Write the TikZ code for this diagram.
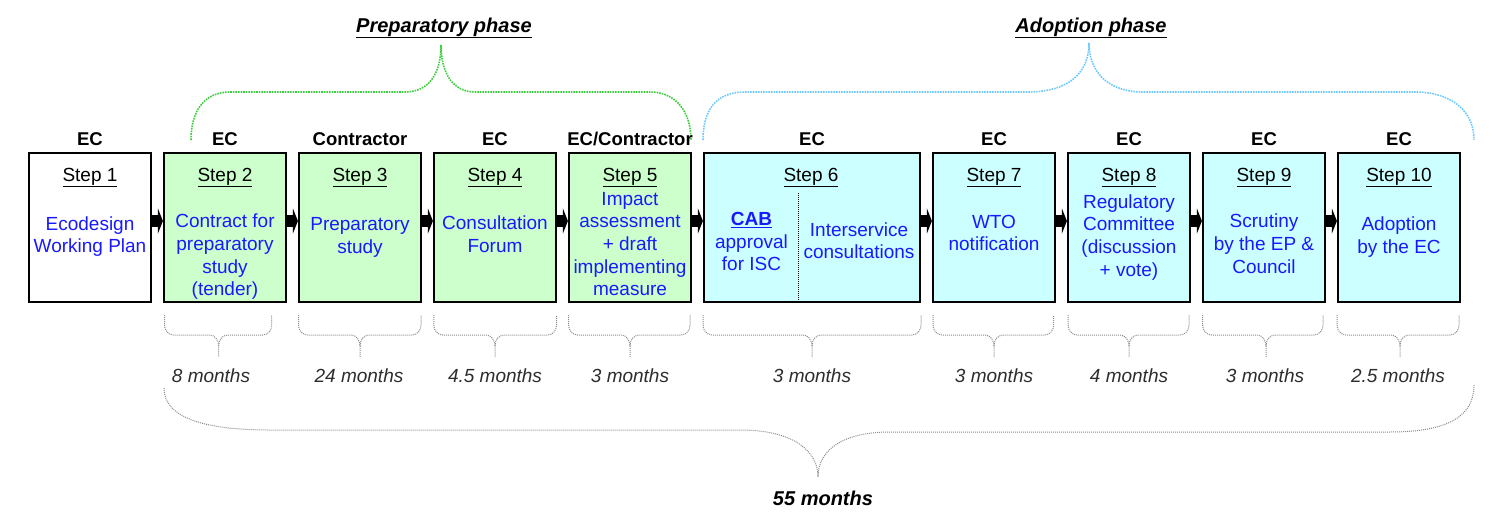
\documentclass[tikz,border=0pt]{standalone}
\usepackage{fontspec}
\setmainfont{Liberation Sans}
\usetikzlibrary{arrows.meta}
\definecolor{boxgreen}{RGB}{204,255,204}
\definecolor{boxcyan}{RGB}{204,255,255}
\definecolor{txtblue}{RGB}{25,25,255}
\definecolor{phgreen}{RGB}{60,205,60}
\definecolor{phcyan}{RGB}{110,200,255}
\definecolor{brgrey}{RGB}{140,140,140}
\definecolor{monthgrey}{RGB}{45,45,45}
\begin{document}
\begin{tikzpicture}[x=1pt,y=-1pt,
  stepbox/.style={draw=black, line width=2.2pt, minimum width=122pt, minimum height=149pt, inner sep=0pt},
  widebox/.style={stepbox, minimum width=216pt},
  who/.style={font=\fontsize{18.5}{22}\selectfont\bfseries, anchor=base, inner sep=0pt},
  steptitle/.style={font=\fontsize{19}{22.7}\selectfont, anchor=base, inner sep=0pt},
  body/.style={font=\fontsize{19}{22.7}\selectfont, text=txtblue, align=center, inner sep=0pt},
  months/.style={font=\fontsize{19}{22}\selectfont\itshape, text=monthgrey, anchor=base, inner sep=0pt},
  phase/.style={font=\fontsize{20}{24}\selectfont\bfseries\itshape, anchor=base, inner sep=0pt},
  conn/.style={line width=12pt, -{Triangle[length=5pt,width=25pt]}},
  sbrace/.style={draw=brgrey, line width=1pt, densely dotted},
  gbrace/.style={draw=phgreen, line width=1.6pt, densely dotted},
  cbrace/.style={draw=phcyan, line width=1.6pt, densely dotted}
]
\useasboundingbox (0,0) rectangle (1507,520);

% phase titles
\node[phase] (prep) at (444,32) {\underline{Preparatory phase}};
\node[phase] (adop) at (1091,32) {\underline{Adoption phase}};

% phase braces
\draw[gbrace] (191,140) .. controls (191,110) and (205,92) .. (230,92) -- (405,92)
  .. controls (430,92) and (441,72) .. (441,45)
  .. controls (441,72) and (452,92) .. (475,92) -- (650,92)
  .. controls (676,92) and (691,112) .. (691,140);
\draw[cbrace] (703,140) .. controls (703,110) and (716,92) .. (745,92) -- (1027,92)
  .. controls (1070,92) and (1089,72) .. (1089,43)
  .. controls (1089,72) and (1108,92) .. (1143,92) -- (1415,92)
  .. controls (1450,92) and (1474,110) .. (1474,140);

% boxes
\node[stepbox] (s1) at (90,227.5) {};
\node[stepbox, fill=boxgreen] (s2) at (225,227.5) {};
\node[stepbox, fill=boxgreen] (s3) at (360,227.5) {};
\node[stepbox, fill=boxgreen] (s4) at (495,227.5) {};
\node[stepbox, fill=boxgreen] (s5) at (630,227.5) {};
\node[widebox, fill=boxcyan] (s6) at (812,227.5) {};
\node[stepbox, fill=boxcyan] (s7) at (994,227.5) {};
\node[stepbox, fill=boxcyan] (s8) at (1129,227.5) {};
\node[stepbox, fill=boxcyan] (s9) at (1264,227.5) {};
\node[stepbox, fill=boxcyan] (s10) at (1399,227.5) {};

% actors
\node[who] (w1) at (90,145.6) {EC};
\node[who] (w2) at (225,145.6) {EC};
\node[who] (w3) at (360,145.6) {Contractor};
\node[who] (w4) at (495,145.6) {EC};
\node[who] (w5) at (630,145.6) {EC/Contractor};
\node[who] (w6) at (812,145.6) {EC};
\node[who] (w7) at (994,145.6) {EC};
\node[who] (w8) at (1129,145.6) {EC};
\node[who] (w9) at (1264,145.6) {EC};
\node[who] (w10) at (1399,145.6) {EC};

% step titles
\node[steptitle] (t1) at (90,181) {\underline{Step 1}};
\node[steptitle] (t2) at (225,181) {\underline{Step 2}};
\node[steptitle] (t3) at (360,181) {\underline{Step 3}};
\node[steptitle] (t4) at (495,181) {\underline{Step 4}};
\node[steptitle] (t5) at (630,181) {\underline{Step 5}};
\node[steptitle] (t6) at (811,181) {\underline{Step 6}};
\node[steptitle] (t7) at (994,181) {\underline{Step 7}};
\node[steptitle] (t8) at (1129,181) {\underline{Step 8}};
\node[steptitle] (t9) at (1264,181) {\underline{Step 9}};
\node[steptitle] (t10) at (1399,181) {\underline{Step 10}};

% body texts
\node[body] (b1) at (90,236.9) {\strut Ecodesign\\\strut Working Plan};
\node[body] (b2) at (225,257.2) {\strut Contract for\\\strut preparatory\\\strut study\\\strut (tender)};
\node[body] (b3) at (360,237.7) {\strut Preparatory\\\strut study};
\node[body] (b4) at (495,236.5) {\strut Consultation\\\strut Forum};
\node[body] (b5) at (630,246) {\strut Impact\\\strut assessment\\\strut + draft\\\strut implementing\\\strut measure};
\node[body] (b6a) at (751.5,243.7) {\strut\textbf{\underline{CAB}}\\\strut approval\\\strut for ISC};
\node[body] (b6b) at (859,243) {\strut Interservice\\\strut consultations};
\node[body] (b7) at (994,235.1) {\strut WTO\\\strut notification};
\node[body] (b8) at (1129,237.7) {\strut Regulatory\\\strut Committee\\\strut (discussion\\\strut + vote)};
\node[body] (b9) at (1264,246.1) {\strut Scrutiny\\\strut by the EP \&\\\strut Council};
\node[body] (b10) at (1399,237.2) {\strut Adoption\\\strut by the EC};

% divider in step 6
\draw[densely dotted, line width=1pt] (798,193) -- (798,302);

% connectors
\foreach \a/\b in {s1/s2,s2/s3,s3/s4,s4/s5,s5/s6,s6/s7,s7/s8,s8/s9,s9/s10}
  \draw[conn] ([yshift=6.5pt]\a.east) -- ([yshift=6.5pt]\b.west);

% small braces
\foreach \xa/\xm/\xb in {164.5/218.6/271.7, 298.5/360/421, 433.8/495/556.5, 568.6/630/690,
   703/812/921, 933/994/1053.6, 1068/1129/1189, 1202.6/1266/1323, 1337/1400/1459}{
  \draw[sbrace] (\xa,315) -- (\xa,325) to[out=-90,in=180] (\xa+9,335) -- (\xm-9,335)
     to[out=0,in=90] (\xm,346) -- (\xm,357);
  \draw[sbrace] (\xm,346) to[out=90,in=180] (\xm+9,335) -- (\xb-9,335)
     to[out=0,in=-90] (\xb,325) -- (\xb,315);
}

% months
\node[months] (m2) at (211,382.8) {8 months};
\node[months] (m3) at (359,382.8) {24 months};
\node[months] (m4) at (495,382.8) {4.5 months};
\node[months] (m5) at (630,382.8) {3 months};
\node[months] (m6) at (812,382.8) {3 months};
\node[months] (m7) at (994,382.8) {3 months};
\node[months] (m8) at (1129,382.8) {4 months};
\node[months] (m9) at (1265,382.8) {3 months};
\node[months] (m10) at (1398,382.8) {2.5 months};

% total brace
\draw[sbrace] (164,388) .. controls (164,418) and (205,430) .. (270,430) -- (740,430)
  .. controls (795,430) and (818,452) .. (818,477)
  .. controls (818,452) and (840,432) .. (890,432) -- (1390,432)
  .. controls (1450,432) and (1474,415) .. (1474,385);
\node[phase] (total) at (823,505) {55 months};
\end{tikzpicture}
\end{document}
